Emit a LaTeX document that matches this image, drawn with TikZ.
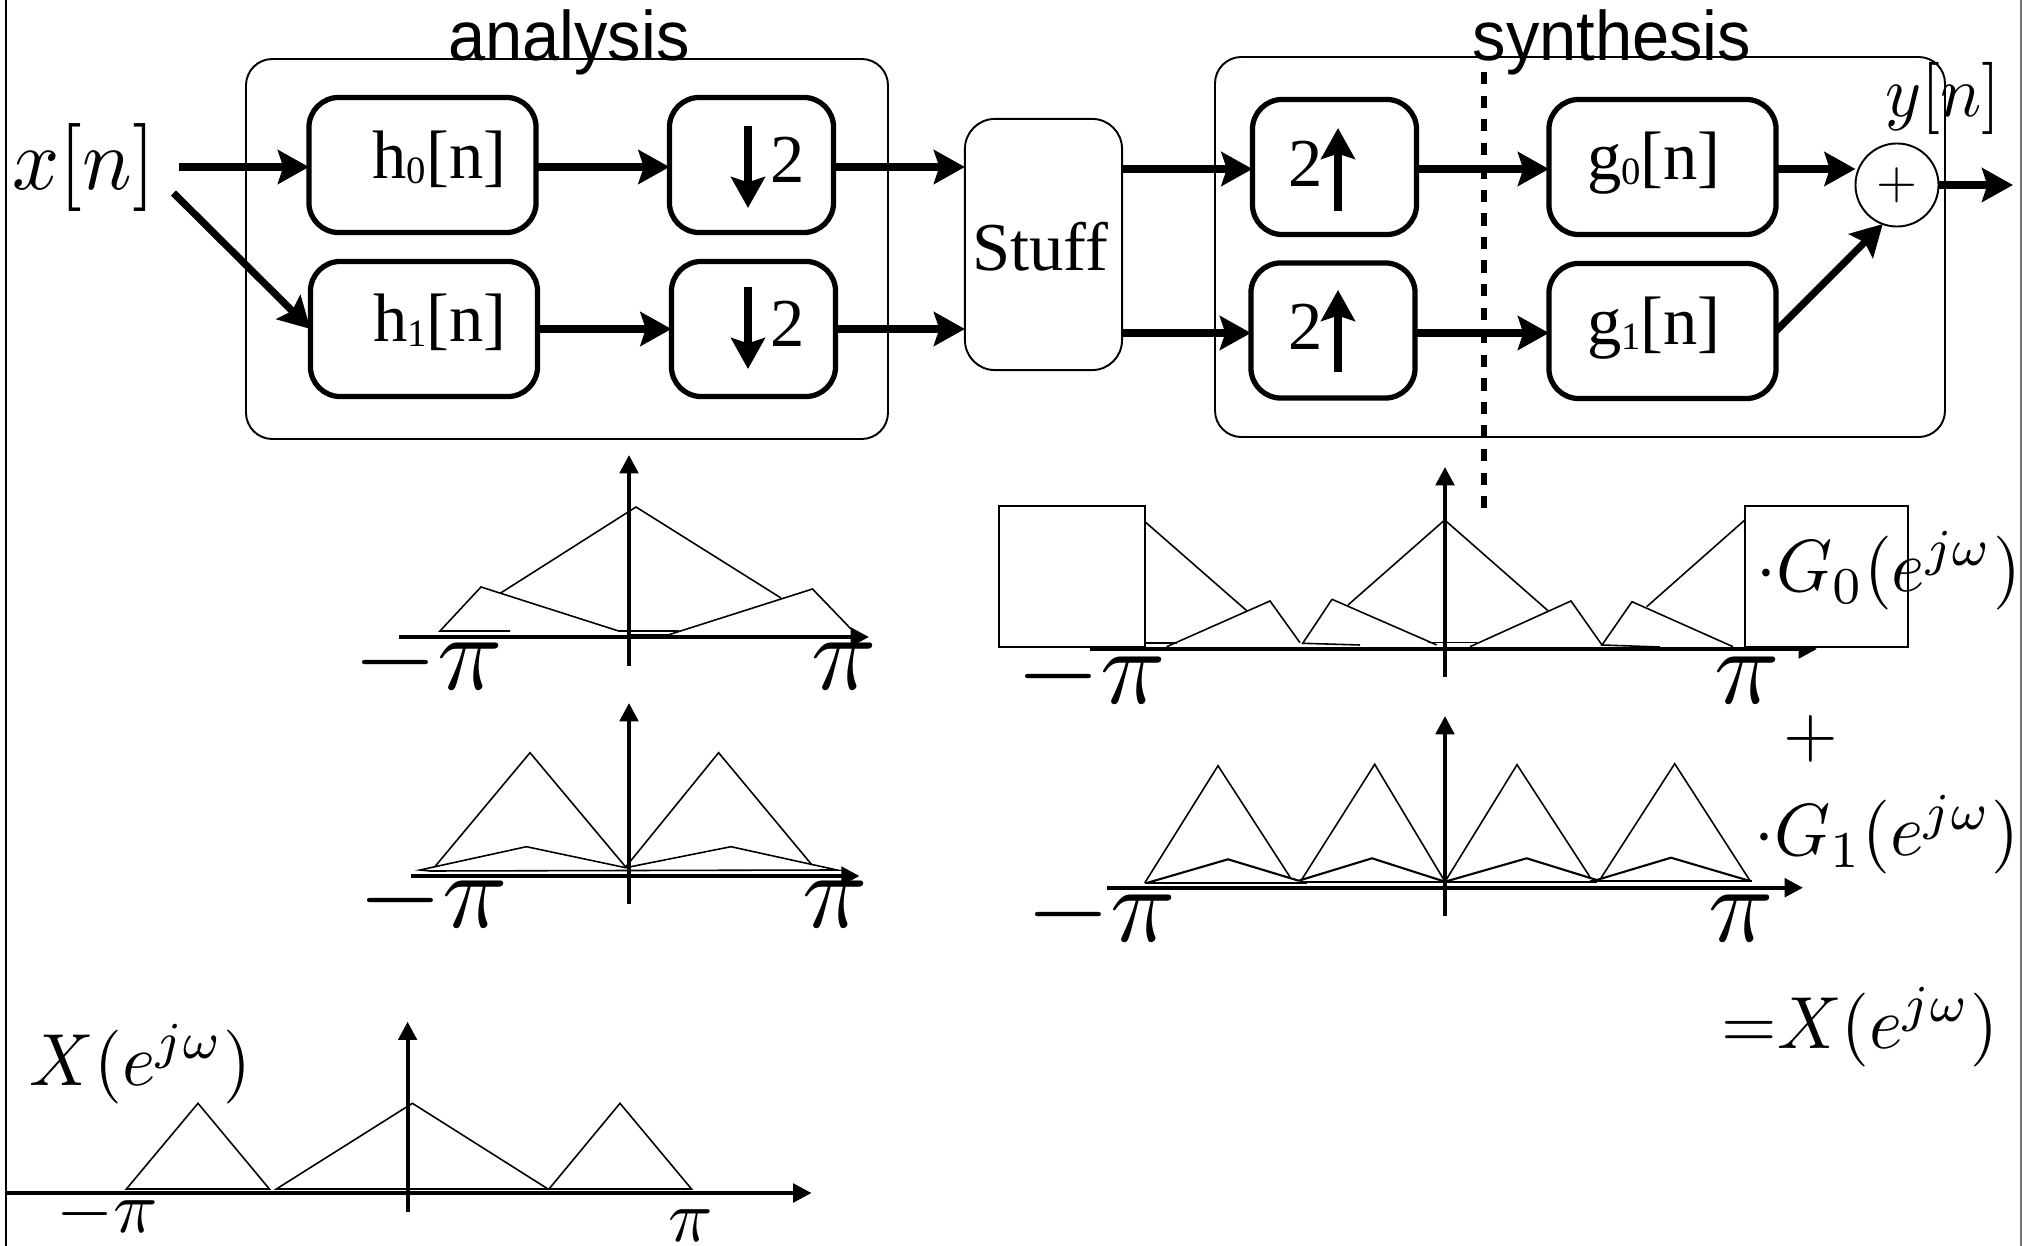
\documentclass[tikz,border=0pt]{standalone}
\usepackage{fontspec}
\usetikzlibrary{arrows.meta}
\newfontfamily\boxfont{Liberation Serif}
\newfontfamily\headfont{Liberation Sans}
\newcommand{\lowsub}[1]{\raisebox{-1.4pt}{\fontsize{11}{11}\selectfont #1}}
\tikzset{
  filterbox/.style={draw,line width=1.5pt,rounded corners=8.5pt,outer sep=0pt,minimum height=1.35cm},
  hbox/.style={filterbox,minimum width=2.27cm},
  ratebox/.style={filterbox,minimum width=1.64cm},
  outerbox/.style={draw,line width=.55pt,rounded corners=7.5pt},
  flow/.style={line width=2.05pt,-{Stealth[length=8.8pt,width=9.6pt,inset=1.5pt]}},
  axisline/.style={line width=1.15pt,-{Triangle[length=5.2pt,width=5.2pt]}},
  spec/.style={line width=.45pt},
  boxlabel/.style={anchor=base,inner sep=0pt,font=\boxfont\fontsize{19.5}{19.5}\selectfont},
  headlabel/.style={anchor=base,inner sep=0pt,yscale=1.05,font=\headfont\fontsize{19}{19}\selectfont},
  pilabel/.style={anchor=base,inner sep=0pt,scale=3.07},
  mathlabel/.style={anchor=base,inner sep=0pt,xscale=2.03,yscale=2.1}
}
\begin{document}
\begin{tikzpicture}[x=0.01cm,y=-0.01cm]
    \useasboundingbox (0,0) rectangle (2023,1246);
    \draw[line width=.45pt] (6,0) -- (6,1246);
    \draw[line width=.6pt,black!55] (2021,0) -- (2021,1246);

    % blocks
    \draw[outerbox] (246,59) rectangle (888,439);
    \draw[outerbox] (1215,57) rectangle (1945,437);
    \draw[line width=1.45pt,dash pattern=on 3.5pt off 3.2pt] (1484,72) -- (1484,509);
    \node[draw,line width=.55pt,rounded corners=8.5pt,outer sep=0pt,minimum width=1.57cm,minimum height=2.51cm] (stuff) at (1043.5,244.5) {};
    \node[hbox] (h0) at (422.5,165) {};
    \node[hbox] (h1) at (424,329) {};
    \node[ratebox] (dn0) at (751.5,165) {};
    \node[ratebox] (dn1) at (753.5,329) {};
    \node[ratebox] (up0) at (1334.5,167) {};
    \node[ratebox] (up1) at (1333,330.5) {};
    \node[hbox] (g0) at (1662.5,167) {};
    \node[hbox] (g1) at (1662.5,331) {};
    \node[draw,circle,line width=.55pt,inner sep=0pt,outer sep=0pt,minimum size=.83cm] (sum) at (1897,185) {\scalebox{1.5}{$+$}};

    \node[headlabel] (analysis) at (569,60.5) {analysis};
    \node[headlabel] (synthesis) at (1612,60.5) {synthesis};
    \node[boxlabel] (stufftxt) at (1040,271) {Stuff};
    \node[boxlabel] (h0txt) at (439.5,179) {h\lowsub{0}[n]};
    \node[boxlabel] (h1txt) at (440,342) {h\lowsub{1}[n]};
    \node[boxlabel] (g0txt) at (1654,180) {g\lowsub{0}[n]};
    \node[boxlabel] (g1txt) at (1654,345) {g\lowsub{1}[n]};
    \node[boxlabel] (dn0txt) at (788,183) {2};
    \node[boxlabel] (dn1txt) at (788,347) {2};
    \node[boxlabel] (up0txt) at (1306,187) {2};
    \node[boxlabel] (up1txt) at (1306,350) {2};
    \node[anchor=base,inner sep=0pt,xscale=2.35,yscale=2.5] (xn) at (84,190) {$x[n]$};
    \node[anchor=base,inner sep=0pt,xscale=1.95,yscale=2.05] (yn) at (1943,117) {$y[n]$};

    % the rate arrows inside the boxes
    \coordinate (dn0a) at (748,126);
    \coordinate (dn0b) at (748,208);
    \coordinate (dn1a) at (748,287);
    \coordinate (dn1b) at (748,369);
    \coordinate (up0a) at (1338,211);
    \coordinate (up0b) at (1338,128);
    \coordinate (up1a) at (1338,372);
    \coordinate (up1b) at (1338,290);
    \draw[flow] (dn0a) -- (dn0b);
    \draw[flow] (dn1a) -- (dn1b);
    \draw[flow] (up0a) -- (up0b);
    \draw[flow] (up1a) -- (up1b);

    % connectors
    \coordinate (xin0) at (179,167);
    \coordinate (xin1) at (173.5,193);
    \coordinate (synrow0) at (1200,169);
    \coordinate (synrow1) at (1200,333);
    \coordinate (yout) at (2013,185);
    \draw[flow] (xin0) -- (xin0 -| h0.west);
    \draw[flow] (xin1) -- (h1.west);
    \draw[flow] (h0.east |- xin0) -- (dn0.west |- xin0);
    \draw[flow] (h1.east) -- (dn1.west);
    \draw[flow] (dn0.east |- xin0) -- (xin0 -| stuff.west);
    \draw[flow] (dn1.east) -- (dn1.east -| stuff.west);
    \draw[flow] (synrow0 -| stuff.east) -- (synrow0 -| up0.west);
    \draw[flow] (synrow1 -| stuff.east) -- (synrow1 -| up1.west);
    \draw[flow] (synrow0 -| up0.east) -- (synrow0 -| g0.west);
    \draw[flow] (synrow1 -| up1.east) -- (synrow1 -| g1.west);
    \draw[flow] (synrow0 -| g0.east) -- (synrow0 -| sum.west);
    \draw[flow] (g1.east) -- (sum.250);
    \draw[flow] (sum.east) -- (yout);

    % upper left spectrum
    \draw[axisline] (399,637) -- (869,637);
    \draw[axisline] (629,665.7) -- (629,455);
    \draw[spec] (500.7,593) -- (636,507) -- (781,598);
    \draw[spec] (510,631) -- (440,631) -- (481,587) -- (618.6,631) -- (679,631);
    \draw[spec] (668,635) -- (812.5,589) -- (851,629);
    \draw[spec] (627,635) -- (668,635);
    \node[pilabel] (pia0) at (428,690) {$-\pi$};
    \node[pilabel] (pib0) at (844,690) {$\pi$};

    % lower left spectrum
    \draw[axisline] (411.4,876) -- (859.6,876);
    \draw[axisline] (629,904) -- (629,703);
    \draw[spec] (434.6,867) -- (530,752.7) -- (625.7,867) -- (718.6,752.7) -- (812,865);
    \draw[spec] (430,871) -- (420,870) -- (526.4,846.7) -- (625.7,867.7) -- (731,846.7) -- (837,870) -- cycle;
    \node[pilabel] (pia1) at (433,928) {$-\pi$};
    \node[pilabel] (pib1) at (835,928) {$\pi$};

    % upper right spectrum
    \draw[axisline] (1090,649) -- (1817,649);
    \draw[axisline] (1445,677) -- (1445,467);
    \draw[spec] (1135,513) -- (1246.7,610.7);
    \draw[spec] (1348,605) -- (1444.7,520) -- (1548,610.7);
    \draw[spec] (1646.7,606.7) -- (1755,511);
    \draw[spec] (1145,643) -- (1177,643);
    \draw[spec] (1166.7,646.7) -- (1270,601) -- (1300,642.7);
    \draw[spec] (1360,645) -- (1302.7,643.3) -- (1332,599.3) -- (1436.7,645);
    \draw[spec] (1428,642.7) -- (1477,642.7);
    \draw[spec] (1470,646.7) -- (1571,601) -- (1602,645);
    \draw[spec] (1660,647) -- (1602,645) -- (1632,601.7) -- (1733,646.7);
    \draw[line width=.55pt,fill=white] (998.7,505.7) rectangle (1144.7,646.7);
    \draw[line width=.55pt,fill=white] (1745,505.7) rectangle (1908,646.7);
    \node[pilabel] (pia2) at (1091,704) {$-\pi$};
    \node[pilabel] (pib2) at (1747,704) {$\pi$};
    \node[mathlabel] (gfn0) at (1888.5,592) {$\cdot G_0(e^{j\omega})$};

    % lower right spectrum
    \draw[axisline] (1106.7,887.7) -- (1803,887.7);
    \draw[axisline] (1445,916) -- (1445,716);
    \draw[spec] (1144.7,883) -- (1218,765.7) -- (1290,877);
    \draw[spec] (1301,880.7) -- (1374.7,764.3) -- (1445,881.7) -- (1517,764.7) -- (1590,877);
    \draw[spec] (1601,878) -- (1674.7,763.7) -- (1750,880.7);
    \draw[line width=.6pt] (1146.7,883) -- (1228,859.3) -- (1298.7,880.7) -- (1372,858.3) -- (1445,881.7) -- (1526.7,858.3) -- (1596.7,880) -- (1671,857.7) -- (1750,881);
    \draw[line width=.6pt] (1145,883.3) -- (1307,883.3);
    \draw[line width=.6pt] (1300,882) -- (1597,882);
    \draw[line width=.6pt] (1590,881) -- (1752,881);
    \node[pilabel] (pia3) at (1101.5,942) {$-\pi$};
    \node[pilabel] (pib3) at (1741,942) {$\pi$};
    \node[inner sep=0pt,scale=2] (plus) at (1811,739) {$+$};
    \node[mathlabel] (gfn1) at (1887,856) {$\cdot G_1(e^{j\omega})$};
    \node[mathlabel] (xsum) at (1860,1048) {${=}X(e^{j\omega})$};

    % input spectrum
    \draw[axisline] (7,1193) -- (811.5,1193);
    \draw[axisline] (407.6,1212) -- (407.6,1021.7);
    \draw[spec] (126.4,1189) -- (198,1103.3) -- (269.4,1189) -- cycle;
    \draw[spec] (276.4,1189) -- (412.4,1103.3) -- (548,1189) -- cycle;
    \draw[spec] (549,1189) -- (620,1103.3) -- (691.5,1189) -- cycle;
    \node[mathlabel] (xfn) at (140.5,1085) {$X(e^{j\omega})$};
    \node[mathlabel,xscale=1.03,yscale=1] (pia4) at (107,1232.7) {$-\pi$};
    \node[mathlabel,xscale=1.03,yscale=1] (pib4) at (691,1241) {$\pi$};
\end{tikzpicture}
\end{document}
